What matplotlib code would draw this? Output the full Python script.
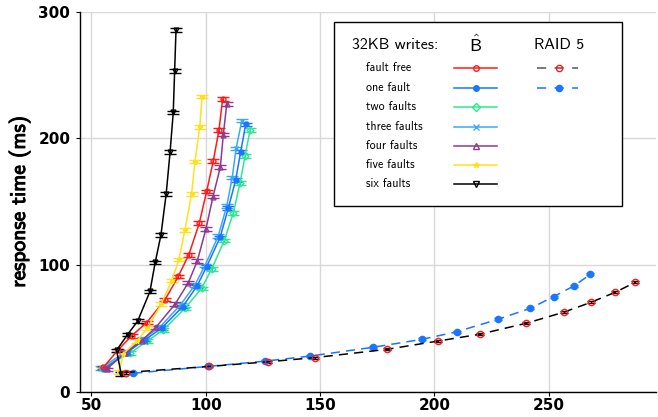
import matplotlib
matplotlib.use("Agg")
import matplotlib.pyplot as plt
from matplotlib.lines import Line2D
from matplotlib.patches import Rectangle
import matplotlib.patheffects as pe

plt.rcParams['mathtext.fontset'] = 'cm'

# ---- data (throughput, response time ms) ----
six_x = [63.0, 61.0, 65.8, 70.2, 75.6, 77.9, 80.4, 82.7, 84.4, 85.8, 86.4, 87.0]
six_y = [14.0, 32.5, 45.0, 55.5, 79.0, 102.0, 123.5, 156.0, 189.0, 220.5, 253.0, 285.5]
five_x = [62.0, 64.0, 70.0, 74.5, 80.5, 85.1, 88.3, 90.9, 93.8, 95.3, 97.4, 98.4]
five_y = [15.5, 30.0, 40.0, 50.0, 69.0, 87.5, 104.4, 127.6, 156.0, 181.5, 209.0, 233.0]
ff_x = [55.2, 61.5, 67.6, 74.2, 82.2, 88.0, 92.6, 97.2, 100.4, 103.3, 105.8, 107.4]
ff_y = [19.0, 32.5, 44.0, 54.5, 72.5, 91.0, 108.0, 133.0, 158.0, 182.0, 206.5, 231.0]
four_x = [56.6, 64.7, 72.0, 78.2, 86.6, 92.4, 96.3, 100.1, 103.2, 106.4, 107.7, 109.2]
four_y = [17.5, 30.6, 40.0, 50.7, 69.0, 86.0, 103.0, 128.4, 154.0, 177.3, 203.0, 227.0]
one_x = [55.5, 65.4, 73.5, 80.7, 89.9, 96.1, 100.4, 106.3, 109.9, 113.1, 115.3, 117.5]
one_y = [18.0, 30.6, 41.0, 50.0, 67.0, 83.0, 98.6, 121.8, 145.0, 167.0, 189.4, 211.0]
two_x = [54.5, 66.9, 74.5, 81.4, 90.9, 98.2, 102.6, 108.1, 112.1, 115.0, 117.2, 119.4]
two_y = [18.3, 30.2, 40.0, 48.6, 65.7, 81.5, 96.8, 119.1, 141.2, 164.5, 186.0, 206.5]
three_x = [54.0, 64.8, 72.5, 80.0, 89.0, 95.2, 99.7, 105.5, 109.2, 111.6, 113.3, 115.8]
three_y = [18.5, 31.0, 41.5, 51.0, 68.5, 84.0, 99.5, 123.0, 146.5, 169.0, 192.0, 214.0]

r5ff_x = [65.0, 101.5, 127.4, 147.9, 179.3, 201.8, 219.8, 240.2, 256.6, 268.6, 279.2, 288.0]
r5ff_y = [15.0, 19.8, 23.5, 26.8, 33.3, 39.9, 45.2, 53.9, 62.6, 70.5, 78.4, 86.3]
r5one_x = [68.3, 101.1, 126.0, 145.7, 173.1, 194.6, 209.9, 227.8, 242.0, 252.2, 261.3, 268.3]
r5one_y = [14.4, 19.8, 24.0, 28.0, 34.9, 41.2, 47.2, 57.0, 65.7, 74.9, 83.6, 92.6]

labels = ["fault free", "one fault", "two faults", "three faults",
          "four faults", "five faults", "six faults"]
xticks = [50, 100, 150, 200, 250]
yticks = [0, 100, 200, 300]

W, H = 658, 417
fig = plt.figure(figsize=(W / 100, H / 100), dpi=100)
ax = fig.add_axes([80 / W, 1 - 391.5 / H, (656 - 80) / W, (391.5 - 11.7) / H])
ax.set_xlim(45, 297)
ax.set_ylim(0, 300)

C_RED = '#ff1a1a'
C_BLUE = '#1a75ff'
C_GREEN = '#2ee88e'
C_LBLUE = '#3aaaf5'
C_PURP = '#8e3a8e'
C_YEL = '#ffe020'
C_BLK = '#000000'

series = [
    (ff_x, ff_y, C_RED, 'o', 'none'),
    (one_x, one_y, C_BLUE, 'o', C_BLUE),
    (two_x, two_y, C_GREEN, 'D', 'none'),
    (three_x, three_y, C_LBLUE, 'x', C_LBLUE),
    (four_x, four_y, C_PURP, '^', 'none'),
    (five_x, five_y, C_YEL, '*', C_YEL),
    (six_x, six_y, C_BLK, 'v', 'none'),
]
order = [2, 3, 1, 4, 0, 5, 6]
for i in order:
    x, y, c, m, mfc = series[i]
    ax.errorbar(x, y, yerr=1.4, color=c, marker=m, mfc=mfc, mec=c, ms=3.5,
                lw=1.1, capsize=4, elinewidth=0.9, capthick=1.0, zorder=3)

ax.errorbar(r5one_x, r5one_y, yerr=0.8, color=C_BLUE, ls=(0, (6, 4)), lw=1.1,
            marker='o', ms=4.5, mfc=C_BLUE, mec=C_BLUE, capsize=3,
            elinewidth=0.8, zorder=3)
ax.errorbar(r5ff_x, r5ff_y, yerr=0.8, color=C_BLK, ecolor=C_BLK, ls=(0, (6, 4)), lw=1.1,
            marker='o', ms=4.5, mfc='none', mec=C_RED, capsize=3,
            elinewidth=0.8, zorder=3)

ax.set_xticks(xticks)
ax.set_yticks(yticks)
tick_font = dict(family=['Liberation Sans Narrow', 'DejaVu Sans'], weight='bold', size=11)
ax.set_xticklabels([str(v) for v in xticks], fontdict=tick_font)
ax.set_yticklabels([str(v) for v in yticks], fontdict=tick_font)
ax.tick_params(axis='x', length=3, width=0.8, pad=2)
ax.tick_params(axis='y', length=3, width=0.8, pad=4)
ax.grid(True, color='#d8d8d8', lw=1.0, zorder=0)
ax.set_axisbelow(True)
for s in ['top', 'right']:
    ax.spines[s].set_visible(False)
for s in ['left', 'bottom']:
    ax.spines[s].set_linewidth(1.0)

yl = ax.set_ylabel('response time (ms)', family='cmss10', size=15.5, labelpad=6)
yl.set_path_effects([pe.withStroke(linewidth=0.7, foreground='black')])

# ---- legend built as a table ----
def fx(px):
    return px / W

def fy(py):
    return 1 - py / H

fig.add_artist(Rectangle((fx(334), fy(206)), fx(622) - fx(334), fy(22) - fy(206),
                         transform=fig.transFigure, facecolor='white',
                         edgecolor='black', lw=1.0, zorder=10))
fig.text(fx(352), fy(45), '32KB writes:', family='cmss10', size=11.5,
         va='center', ha='left', zorder=11)
fig.text(fx(475.5), fy(45), r'$\hat{\mathsf{B}}$', size=13,
         va='center', ha='center', zorder=11)
fig.text(fx(558.7), fy(45), 'RAID 5', family='cmss10', size=11.5,
         va='center', ha='center', zorder=11)
row_y = [68.3, 87.7, 107.2, 126.5, 145.8, 165.1, 184.4]
for (lab, (x, y, c, m, mfc), ry) in zip(labels, series, row_y):
    fig.text(fx(366), fy(ry), lab, family='cmss10', size=8.6,
             va='center', ha='left', zorder=11)
    fig.add_artist(Line2D([fx(454), fx(497.5)], [fy(ry), fy(ry)],
                          transform=fig.transFigure, color=c, lw=1.1, zorder=11))
    fig.add_artist(Line2D([fx(475.7)], [fy(ry)], transform=fig.transFigure,
                          color=c, marker=m, mfc=mfc, mec=c, ms=4, zorder=12))
for ry, lc, mfc, mec in [(row_y[0], '#555555', 'none', C_RED),
                         (row_y[1], C_BLUE, C_BLUE, C_BLUE)]:
    fig.add_artist(Line2D([fx(536.7), fx(578)], [fy(ry), fy(ry)],
                          transform=fig.transFigure, color=lc, lw=1.1,
                          ls=(0, (6, 5.5)), zorder=11))
    fig.add_artist(Line2D([fx(558.7)], [fy(ry)], transform=fig.transFigure,
                          color=lc, marker='o', mfc=mfc, mec=mec, ms=4.5,
                          ls='none', zorder=12))

fig.savefig('out.png', dpi=100)
